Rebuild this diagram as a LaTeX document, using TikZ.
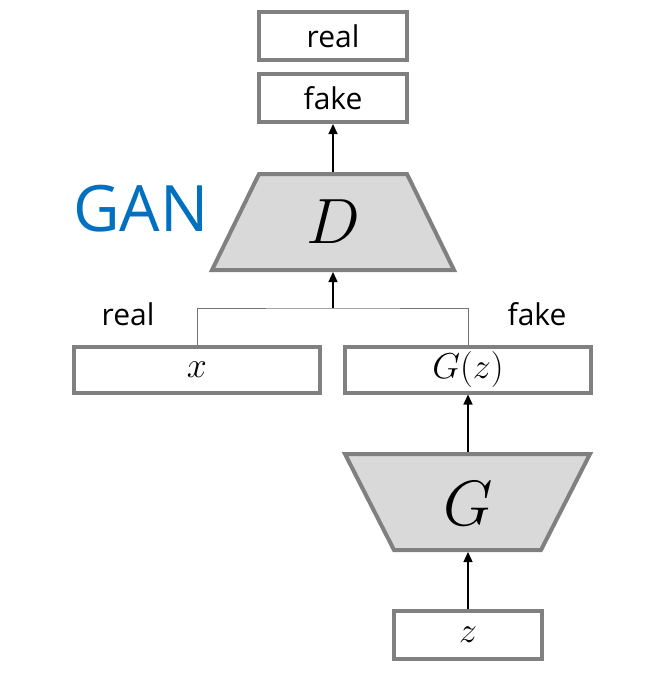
\RequirePackage{fix-cm}
\documentclass[tikz,border=0pt]{standalone}
\usepackage{fontspec}
\setmainfont{Open Sans}
\usetikzlibrary{arrows.meta}
\definecolor{ganblue}{RGB}{0,112,192}
\definecolor{boxgray}{RGB}{128,128,128}
\definecolor{fillgray}{RGB}{217,217,217}
\begin{document}
\begin{tikzpicture}[x=1pt,y=-1pt,
  box/.style={draw=boxgray,line width=4pt,fill=white,inner sep=0pt,minimum height=48pt,minimum width=148pt},
  widebox/.style={box,minimum width=246pt,minimum height=46pt},
  lbl/.style={font=\fontsize{30}{36}\selectfont,inner sep=0pt},
  mth/.style={font=\fontsize{36}{42}\selectfont},
  bigmth/.style={font=\fontsize{64}{70}\selectfont,inner sep=0pt},
  arr/.style={line width=1.3pt,-{Triangle[length=10pt,width=9pt]}},
  link/.style={draw=black!55,line width=1pt},
  trap/.style={draw=boxgray,line width=4pt,fill=fillgray,line join=miter}]
\useasboundingbox (0,0) rectangle (664,691);

% boxes
\node[box,lbl] (real) at (333,36) {real};
\node[box,lbl] (fake) at (333,98) {fake};
\node[widebox,mth] (x) at (197,369.5) {$x$};
\node[widebox,mth] (Gz) at (468,369.5) {$G(z)$};
\node[box,mth] (z) at (468,634.5) {$z$};

% discriminator
\draw[trap] (259,174) -- (407,174) -- (454,270) -- (212,270) -- cycle;
\node[bigmth] (D) at (333,222) {$D$};
\coordinate (Dtop) at (333,172);
\coordinate (Dbot) at (333,272);

% generator
\draw[trap] (345,454) -- (590,454) -- (541,550) -- (394,550) -- cycle;
\node[bigmth] (G) at (468,504) {$G$};
\coordinate (Gtop) at (468,452);
\coordinate (Gbot) at (468,552);

% labels
\node[font=\fontsize{64}{70}\selectfont,text=ganblue,inner sep=0pt,anchor=base] (gan) at (141,231) {GAN};
\node[lbl,anchor=base] (reallbl) at (128,325) {real};
\node[lbl,anchor=base] (fakelbl) at (537,325) {fake};

% connectors
\coordinate (j) at (333,308);
\draw[link] (x.north) |- (j) -| (Gz.north);
\draw[arr] (j) -- (Dbot);
\draw[arr] (Dtop) -- (fake.south);
\draw[arr] (Gtop) -- (Gz.south);
\draw[arr] (z.north) -- (Gbot);
\end{tikzpicture}
\end{document}
